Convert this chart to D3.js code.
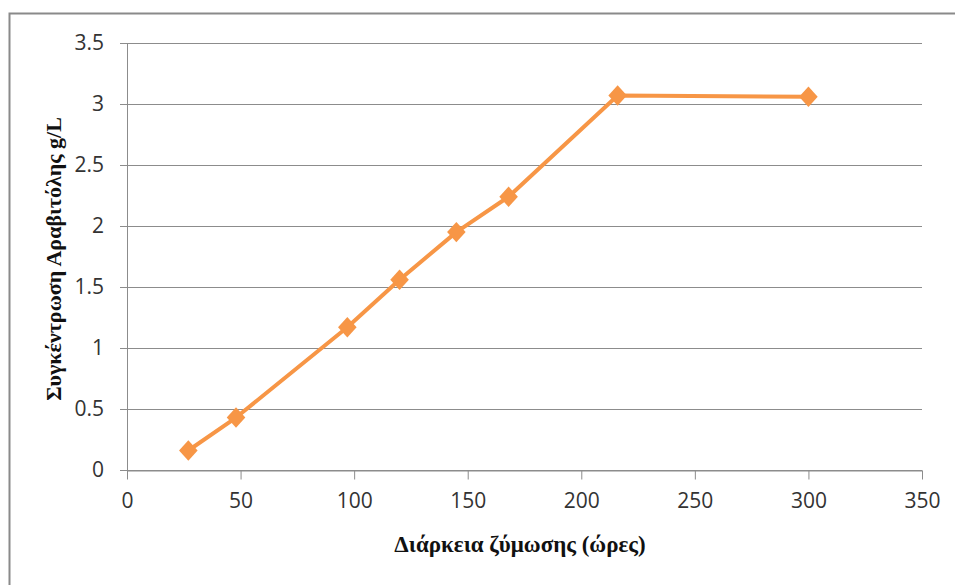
<!DOCTYPE html>
<html>
<head>
<meta charset="utf-8">
<script src="https://cdn.jsdelivr.net/npm/d3@7"></script>
<style>
  html, body { margin: 0; padding: 0; background: #ffffff; }
  svg { display: block; }
</style>
</head>
<body>
<svg id="chart" width="955" height="585"></svg>
<script>
// Fermentation time (hours) and arabitol concentration (g/L)
const hours = [27, 48, 97, 120, 145, 168, 216, 300];
const arabitol = [0.16, 0.43, 1.17, 1.56, 1.95, 2.24, 3.07, 3.06];
const xTicks = [0, 50, 100, 150, 200, 250, 300, 350];
const yTicks = [0, 0.5, 1, 1.5, 2, 2.5, 3, 3.5];
const xTitle = "Διάρκεια ζύμωσης (ώρες)";
const yTitle = "Συγκέντρωση Αραβιτόλης g/L";

const svg = d3.select("#chart");
const W = 955, H = 585;
const plot = { left: 127, right: 922, top: 43, bottom: 470 };
const gridColor = "#8c8c8c";
const seriesColor = "#f79646";
const tickFont = "'Open Sans', 'Noto Sans', sans-serif";
const titleFont = "'Liberation Serif', 'DejaVu Serif', serif";

// Chart frame
svg.append("rect")
  .attr("x", 9.5).attr("y", 13.5)
  .attr("width", W + 20).attr("height", H + 20)
  .attr("fill", "#ffffff")
  .attr("stroke", "#8a8a8a").attr("stroke-width", 2);

const x = d3.scaleLinear().domain([0, 350]).range([plot.left, plot.right]);
const y = d3.scaleLinear().domain([0, 3.5]).range([plot.bottom, plot.top]);

// Horizontal gridlines with y axis labels
const yAxis = d3.axisLeft(y)
  .tickValues(yTicks)
  .tickSize(-(plot.right - plot.left) - 7)
  .tickPadding(16)
  .tickFormat(d => String(d));
const gy = svg.append("g")
  .attr("transform", `translate(${plot.right},0)`)
  .call(yAxis);
gy.select(".domain").remove();
gy.selectAll(".tick line")
  .attr("x1", 0)
  .attr("x2", -(plot.right - plot.left) - 7)
  .attr("stroke", gridColor).attr("stroke-width", 1);
gy.selectAll(".tick text")
  .attr("x", -(plot.right - plot.left) - 23)
  .attr("fill", "#333333")
  .style("font-family", tickFont)
  .style("font-size", "21px");

// Vertical axis line
svg.append("line")
  .attr("x1", plot.left + 0.5).attr("x2", plot.left + 0.5)
  .attr("y1", plot.top).attr("y2", plot.bottom)
  .attr("stroke", gridColor).attr("stroke-width", 1);

// Bottom axis
const xAxis = d3.axisBottom(x)
  .tickValues(xTicks)
  .tickSize(9)
  .tickPadding(14)
  .tickSizeOuter(0)
  .tickFormat(d => String(d));
const gx = svg.append("g")
  .attr("transform", `translate(0,${plot.bottom + 0.5})`)
  .call(xAxis);
gx.select(".domain").attr("stroke", gridColor);
gx.selectAll(".tick line").attr("stroke", gridColor);
gx.selectAll(".tick text")
  .attr("fill", "#333333")
  .style("font-family", tickFont)
  .style("font-size", "21px");

// Series line
const pts = hours.map((h, i) => [h, arabitol[i]]);
svg.append("path")
  .datum(pts)
  .attr("fill", "none")
  .attr("stroke", seriesColor)
  .attr("stroke-width", 4)
  .attr("stroke-linejoin", "round")
  .attr("d", d3.line().x(d => x(d[0])).y(d => y(d[1])));

// Diamond markers (slightly taller than wide)
const diamond = d3.symbol().type(d3.symbolDiamond2).size(220);
svg.append("g").selectAll("path")
  .data(pts)
  .join("path")
  .attr("transform", d => `translate(${x(d[0])},${y(d[1])}) scale(1,1.1)`)
  .attr("d", diamond)
  .attr("fill", seriesColor);

// Axis titles
svg.append("text")
  .attr("x", 520).attr("y", 552)
  .attr("text-anchor", "middle")
  .style("font-family", titleFont)
  .style("font-weight", "bold")
  .style("font-size", "23px")
  .attr("fill", "#111111")
  .text(xTitle);

svg.append("text")
  .attr("transform", "translate(61,259) rotate(-90)")
  .attr("text-anchor", "middle")
  .style("font-family", titleFont)
  .style("font-weight", "bold")
  .style("font-size", "22px")
  .attr("fill", "#111111")
  .text(yTitle);
</script>
</body>
</html>
